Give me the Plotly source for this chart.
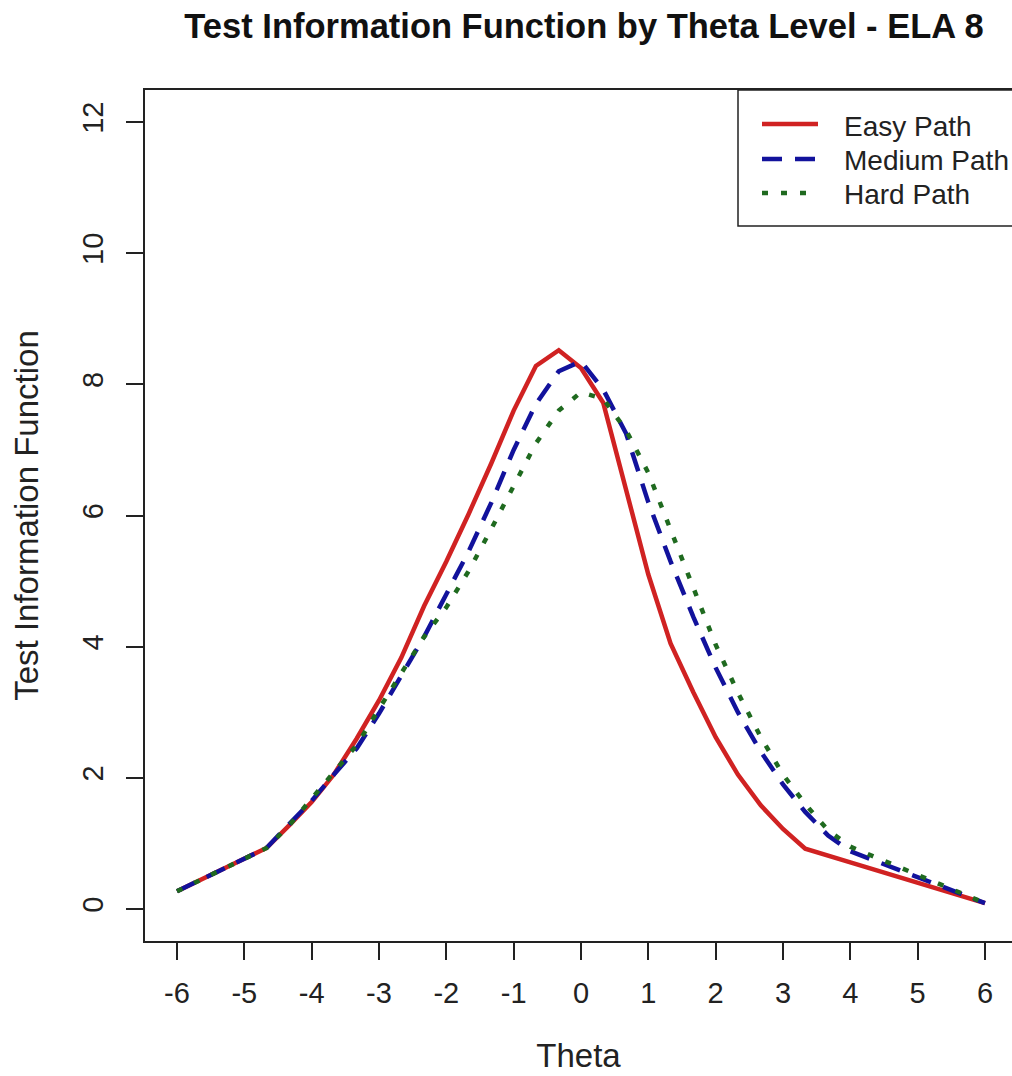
import plotly.graph_objects as go

# Theta grid (ability scale) shared by all three paths
theta = [-6, -4.67, -4.33, -4, -3.67, -3.33, -3, -2.67, -2.33, -2, -1.67, -1.33,
         -1, -0.67, -0.33, 0, 0.33, 0.67, 1, 1.33, 1.67, 2, 2.33, 2.67, 3, 3.33,
         3.67, 4, 6]

# Test information at each theta for each routing path
easy_path = [0.27, 0.93, 1.28, 1.63, 2.05, 2.60, 3.18, 3.83, 4.62, 5.30, 6.02, 6.80,
             7.60, 8.28, 8.52, 8.25, 7.72, 6.40, 5.10, 4.05, 3.30, 2.62, 2.05, 1.58,
             1.22, 0.92, 0.81, 0.71, 0.09]
medium_path = [0.27, 0.93, 1.30, 1.65, 2.05, 2.45, 2.98, 3.55, 4.15, 4.80, 5.45, 6.20,
               7.00, 7.70, 8.20, 8.35, 7.92, 7.25, 6.20, 5.30, 4.45, 3.68, 3.00, 2.40,
               1.90, 1.48, 1.12, 0.88, 0.09]
hard_path = [0.27, 0.93, 1.28, 1.68, 2.10, 2.50, 3.05, 3.60, 4.15, 4.60, 5.15, 5.80,
             6.45, 7.10, 7.60, 7.88, 7.78, 7.30, 6.65, 5.80, 4.90, 4.03, 3.30, 2.62,
             2.05, 1.60, 1.20, 0.95, 0.09]

series_names = ["Easy Path", "Medium Path", "Hard Path"]
series_colors = ["#d02222", "#12129c", "#1f6a1f"]
series_dashes = ["solid", "20px,13px", "6px,13px"]

x_ticks = [-6, -5, -4, -3, -2, -1, 0, 1, 2, 3, 4, 5, 6]
y_ticks = [0, 2, 4, 6, 8, 10, 12]

FONT = "Liberation Sans, Arial, Helvetica, sans-serif"
INK = "#222222"

W, H = 1012, 1076
L, R, T, B = 145, 0, 90, 135
pw = W - L - R
ph = H - T - B


def px_x(px):
    """Horizontal pixel position -> paper fraction."""
    return (px - L) / pw


def px_y(py):
    """Vertical pixel position (from top) -> paper fraction."""
    return (H - B - py) / ph


fig = go.Figure()
for name, vals, color, dash in zip(series_names, [easy_path, medium_path, hard_path],
                                   series_colors, series_dashes):
    fig.add_trace(go.Scatter(x=theta, y=vals, mode="lines", name=name,
                             showlegend=False,
                             line=dict(color=color, width=4.5, dash=dash)))

# Legend frame, running off the right edge like the plot frame
shapes = [dict(type="rect", xref="paper", yref="paper",
               x0=px_x(738), x1=1.05, y0=px_y(226), y1=1.0,
               line=dict(color=INK, width=1.5), fillcolor="rgba(0,0,0,0)")]
annotations = []
row_y = [124, 159, 193]
for name, color, dash, ry in zip(series_names, series_colors, series_dashes, row_y):
    shapes.append(dict(type="line", xref="paper", yref="paper",
                       x0=px_x(762), x1=px_x(818), y0=px_y(ry), y1=px_y(ry),
                       line=dict(color=color, width=4.5, dash=dash)))
    annotations.append(dict(text=name, xref="paper", yref="paper",
                            x=px_x(842), y=px_y(ry + 2), xanchor="left",
                            yanchor="middle", showarrow=False,
                            font=dict(family=FONT, size=28, color=INK)))

fig.update_layout(
    width=W, height=H,
    margin=dict(l=L, r=R, t=T, b=B, pad=0),
    paper_bgcolor="white", plot_bgcolor="white",
    font=dict(family=FONT, color=INK, size=29),
    title=dict(text="<b>Test Information Function by Theta Level - ELA 8</b>",
               font=dict(family=FONT, size=34.5, color="#111111"),
               x=px_x(584), xref="paper", xanchor="center",
               y=1 - 26 / H, yref="container", yanchor="middle"),
    showlegend=False,
    shapes=shapes,
    annotations=annotations,
    xaxis=dict(range=[-6.475, 6.401], tickvals=x_ticks,
               ticktext=[str(v) for v in x_ticks],
               showgrid=False, zeroline=False,
               showline=True, mirror=True, linecolor=INK, linewidth=1.5,
               ticks="outside", ticklen=17, tickwidth=1.5, tickcolor=INK,
               ticklabelstandoff=8,
               title=dict(text="Theta", font=dict(size=33), standoff=36)),
    yaxis=dict(range=[-0.488, 12.488], tickvals=y_ticks,
               ticktext=[str(v) for v in y_ticks],
               showgrid=False, zeroline=False,
               showline=True, mirror=False, linecolor=INK, linewidth=1.5,
               ticks="outside", ticklen=17, tickwidth=1.5, tickcolor=INK,
               tickangle=-90, ticklabelstandoff=12,
               title=dict(text="Test Information Function", font=dict(size=33),
                          standoff=28)),
)

fig.write_html("out.html")
